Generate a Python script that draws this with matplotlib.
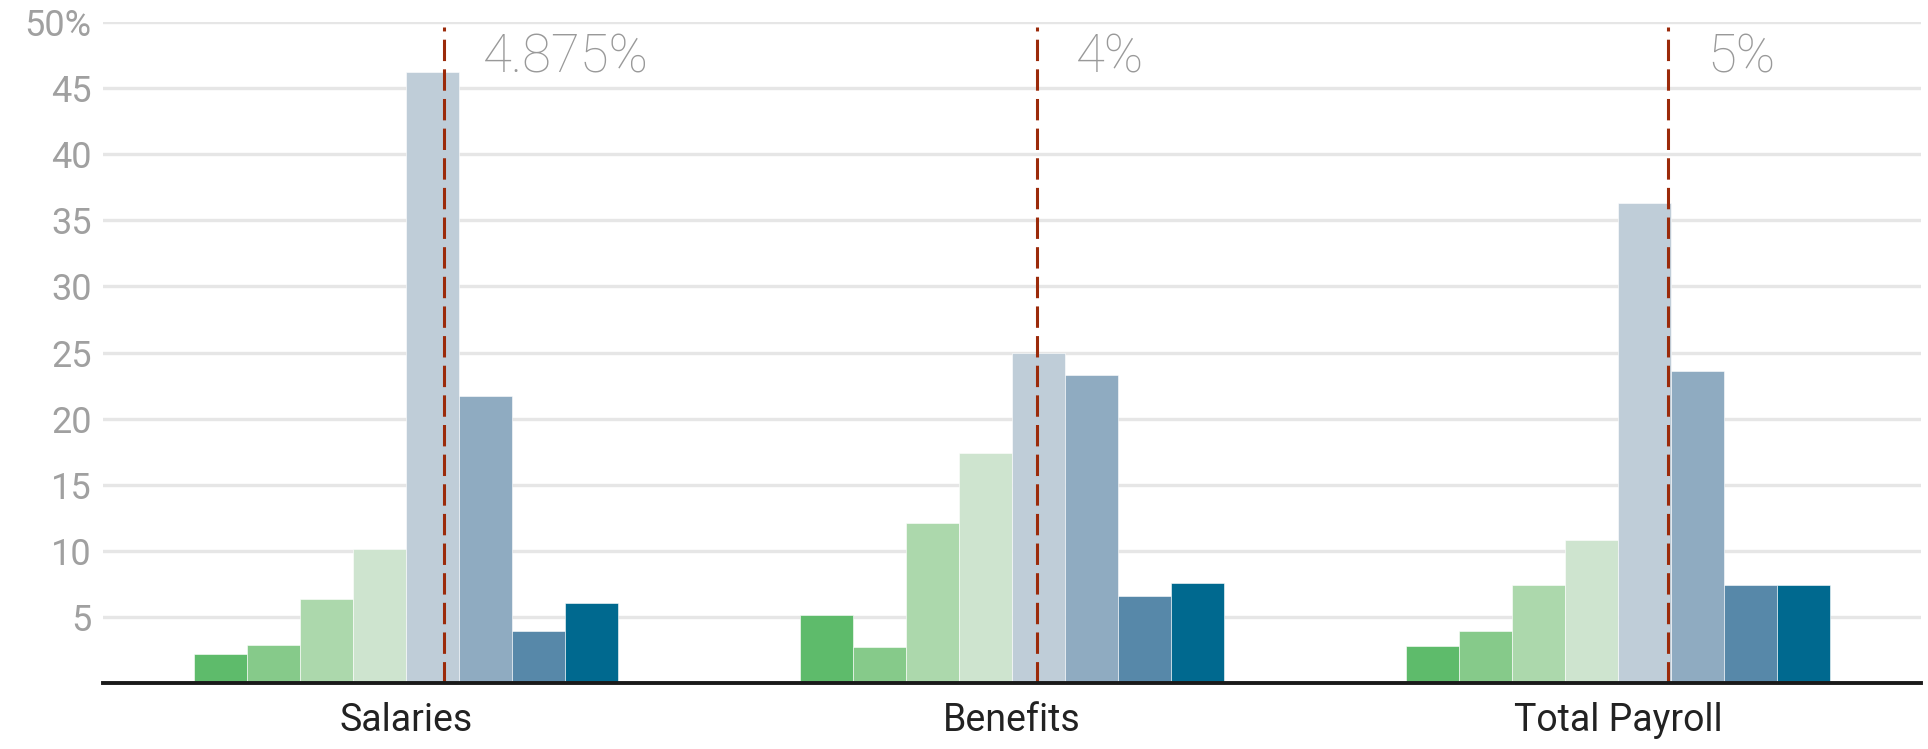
import numpy as np
import matplotlib
matplotlib.use("Agg")
from matplotlib import pyplot as plt

categories = ['Salaries', 'Benefits', 'Total Payroll']
salaries = [2.2, 2.9, 6.35, 10.1, 46.2, 21.7, 3.95, 6.05]
benefits = [5.15, 2.75, 12.1, 17.4, 25.0, 23.3, 6.55, 7.55]
total_payroll = [2.8, 3.95, 7.45, 10.8, 36.3, 23.6, 7.45, 7.45]
# position of the dashed marker, in bar units from the left edge of each group
marker_pos = [4.72, 4.48, 4.95]
marker_labels = ['4.875%', '4%', '5%']
yticks = [5, 10, 15, 20, 25, 30, 35, 40, 45, 50]
ytick_labels = ['5', '10', '15', '20', '25', '30', '35', '40', '45', '50%']

colors = ['#5ebb6b', '#86ca8a', '#acd8ac', '#cee4cf',
          '#bfcdd8', '#8fabc1', '#5788a9', '#00698f']

plt.rcParams['font.family'] = ['Roboto', 'DejaVu Sans']

fig = plt.figure(figsize=(19.28, 7.49), dpi=100)
ax = fig.add_axes([0.0534, 0.0881, 0.943, 0.8825])

series = np.array([salaries, benefits, total_payroll])
n_bars = series.shape[1]
group_w = 0.7
bar_w = group_w / n_bars
x = np.arange(len(categories))

for i in range(n_bars):
    left = x - group_w / 2 + i * bar_w
    ax.bar(left, series[:, i], width=bar_w, align='edge', color=colors[i],
           edgecolor='white', linewidth=0.4, zorder=2)

for g in range(len(categories)):
    xm = x[g] - group_w / 2 + marker_pos[g] * bar_w
    ax.plot([xm, xm], [0, 49.6], color='#9b2a0a', lw=2.2,
            dashes=(7, 2.7), zorder=3)
    ax.text(xm + 0.064, 47.3, marker_labels[g], fontsize=38, color='#999999',
            fontweight='light', va='center', ha='left', zorder=4)

ax.set_xlim(-0.5, 2.5)
ax.set_ylim(0, 50)
ax.set_yticks(yticks)
ax.set_yticklabels(ytick_labels)
ax.set_xticks(x)
ax.set_xticklabels(categories)

ax.grid(axis='y', color='#e6e6e6', lw=2.4, zorder=0)
ax.set_axisbelow(True)
for s in ['top', 'right', 'left']:
    ax.spines[s].set_visible(False)
ax.spines['bottom'].set_color('#1a1a1a')
ax.spines['bottom'].set_linewidth(2.8)
ax.spines['bottom'].set_zorder(5)

ax.tick_params(axis='y', length=0, pad=8, labelsize=26, labelcolor='#a0a0a0')
ax.tick_params(axis='x', length=0, pad=14, labelsize=27, labelcolor='#222222')

fig.savefig('out.png', dpi=100)
